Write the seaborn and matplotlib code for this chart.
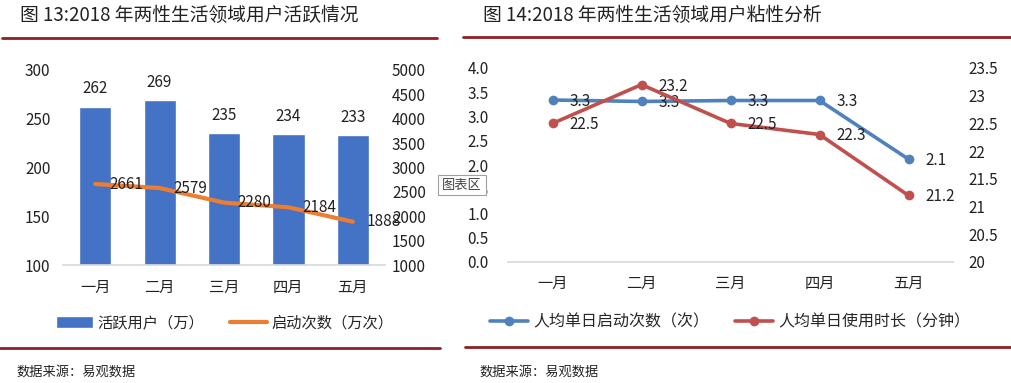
import numpy as np
import pandas as pd
import matplotlib
matplotlib.use("Agg")
import matplotlib.pyplot as plt
from matplotlib.lines import Line2D
from matplotlib.ticker import FixedLocator, FuncFormatter
import seaborn as sns

# ---------------- data ----------------
months = ["一月", "二月", "三月", "四月", "五月"]
active_users = [262, 269, 235, 234, 233]          # 活跃用户（万）
launches = [2661, 2579, 2280, 2184, 1888]          # 启动次数（万次）
daily_launches = [3.34, 3.31, 3.33, 3.33, 2.12]    # 人均单日启动次数（次）
daily_minutes = [22.5, 23.2, 22.5, 22.3, 21.2]     # 人均单日使用时长（分钟）

title_left = "图 13:2018 年两性生活领域用户活跃情况"
title_right = "图 14:2018 年两性生活领域用户粘性分析"
source_text = "数据来源：易观数据"

sns.set_theme(style="white")
plt.rcParams["font.family"] = ["Noto Sans CJK SC", "DejaVu Sans"]
plt.rcParams["axes.unicode_minus"] = False

W, H = 1012, 383
fig = plt.figure(figsize=(W / 100, H / 100), dpi=100)
fig.patch.set_facecolor("white")

def fx(px):
    return px / W

def fy(py):
    return 1 - py / H

BLUE_BAR = "#4472C4"
ORANGE = "#ED7D31"
BLUE_LINE = "#4F81BD"
RED_LINE = "#C0504D"
DARK_RED = "#8E1F22"
AXIS_GRAY = "#D9D9D9"
TXT = "#222222"

# ---------------- titles / rules ----------------
fig.text(fx(20), fy(16), title_left, fontsize=13.5, ha="left", va="center", color=TXT)
fig.text(fx(483), fy(16), title_right, fontsize=13.5, ha="left", va="center", color=TXT)
for x0, x1, y in [(2, 437, 37.5), (463, 1012, 36.5), (0, 440, 348), (465, 1012, 347)]:
    fig.add_artist(Line2D([fx(x0), fx(x1)], [fy(y), fy(y)], transform=fig.transFigure,
                          color=DARK_RED, linewidth=2.0))
fig.text(fx(16), fy(372), source_text, fontsize=9.5, ha="left", va="center", color=TXT)
fig.text(fx(479), fy(372), source_text, fontsize=9.5, ha="left", va="center", color=TXT)

# ---------------- left chart ----------------
axL = fig.add_axes([fx(63), fy(265), fx(385) - fx(63), fy(70) - fy(265)])
dfL = pd.DataFrame({"month": months, "users": active_users, "launch": launches})
sns.barplot(data=dfL, x="month", y="users", color=BLUE_BAR, width=0.5,
            saturation=1, ax=axL, label="活跃用户（万）", zorder=2)
axL.set_ylim(100, 300)
axL.set_yticks(np.arange(100, 301, 50))
axL.bar_label(axL.containers[0], fmt="%d", padding=7, fontsize=11, color=TXT)
axL2 = axL.twinx()
sns.lineplot(data=dfL, x="month", y="launch", color=ORANGE, linewidth=3, sort=False,
             ax=axL2, label="启动次数（万次）", zorder=3)
axL2.set_ylim(1000, 5000)
axL2.set_yticks(np.arange(1000, 5001, 500))
for i, v in enumerate(launches):
    axL2.annotate(f"{v}", (i, v), xytext=(10, 0), textcoords="offset points",
                  ha="left", va="center", fontsize=11, color=TXT)
axL.set_xlim(-0.5, 4.5)
for a in (axL, axL2):
    a.set_xlabel("")
    a.set_ylabel("")
    for s in a.spines.values():
        s.set_visible(False)
    a.grid(False)
axL.spines["bottom"].set_visible(True)
axL.spines["bottom"].set_color(AXIS_GRAY)
axL.tick_params(axis="x", length=0, pad=10, labelsize=11, colors=TXT)
axL.xaxis.set_minor_locator(FixedLocator(np.arange(-0.5, 5, 1)))
axL.tick_params(axis="x", which="minor", length=5, color=AXIS_GRAY, width=1)
axL.tick_params(axis="y", length=0, pad=9, labelsize=11, colors=TXT)
axL2.tick_params(axis="y", length=0, pad=5, labelsize=11, colors=TXT)
if axL.get_legend():
    axL.get_legend().remove()
if axL2.get_legend():
    axL2.get_legend().remove()
hL = [axL.containers[0].patches[0], axL2.get_lines()[0]]
fig.legend(hL, ["活跃用户（万）", "启动次数（万次）"], loc="center",
           bbox_to_anchor=(fx(225), fy(323)), ncol=2, frameon=False, fontsize=11,
           handlelength=2.4, handleheight=0.8, handletextpad=0.3, columnspacing=1.7)

# ---------------- right chart ----------------
axR = fig.add_axes([fx(508), fy(262), fx(953) - fx(508), fy(68) - fy(262)])
dfR = pd.DataFrame({"month": months, "cnt": daily_launches, "mins": daily_minutes})
sns.lineplot(data=dfR, x="month", y="cnt", color=BLUE_LINE, linewidth=2.6, sort=False,
             marker="o", markersize=7, markeredgewidth=0, ax=axR,
             label="人均单日启动次数（次）", zorder=3)
axR.set_ylim(0, 4.0)
axR.set_yticks(np.arange(0, 4.01, 0.5))
axR.yaxis.set_major_formatter(FuncFormatter(lambda v, p: f"{v:.1f}"))
axR2 = axR.twinx()
sns.lineplot(data=dfR, x="month", y="mins", color=RED_LINE, linewidth=2.6, sort=False,
             marker="o", markersize=7, markeredgewidth=0, ax=axR2,
             label="人均单日使用时长（分钟）", zorder=3)
axR2.set_ylim(20, 23.5)
axR2.set_yticks(np.arange(20, 23.51, 0.5))
axR2.yaxis.set_major_formatter(FuncFormatter(lambda v, p: f"{v:g}"))
for i, v in enumerate(daily_launches):
    axR.annotate(f"{v:.1f}", (i, v), xytext=(12, -1), textcoords="offset points",
                 ha="left", va="center", fontsize=11, color=TXT)
for i, v in enumerate(daily_minutes):
    axR2.annotate(f"{v:.1f}", (i, v), xytext=(12, -1), textcoords="offset points",
                  ha="left", va="center", fontsize=11, color=TXT)
axR.set_xlim(-0.5, 4.5)
for a in (axR, axR2):
    a.set_xlabel("")
    a.set_ylabel("")
    for s in a.spines.values():
        s.set_visible(False)
    a.grid(False)
axR.spines["bottom"].set_visible(True)
axR.spines["bottom"].set_color(AXIS_GRAY)
axR.tick_params(axis="x", length=0, pad=9, labelsize=11, colors=TXT)
axR.tick_params(axis="y", length=0, pad=14, labelsize=11, colors=TXT)
axR2.tick_params(axis="y", length=0, pad=11, labelsize=11, colors=TXT)
if axR.get_legend():
    axR.get_legend().remove()
if axR2.get_legend():
    axR2.get_legend().remove()
hR = [axR.get_lines()[0], axR2.get_lines()[0]]
fig.legend(hR, ["人均单日启动次数（次）", "人均单日使用时长（分钟）"], loc="center",
           bbox_to_anchor=(fx(730), fy(322)), ncol=2, frameon=False, fontsize=11.5,
           handlelength=2.4, handletextpad=0.3, columnspacing=1.6)

# Excel "图表区" tooltip
fig.text(fx(462), fy(185), "图表区", fontsize=9.5, ha="center", va="center", color="#444444",
         zorder=10,
         bbox=dict(boxstyle="square,pad=0.3", facecolor="white", edgecolor="#A0A0A0", linewidth=0.8))

fig.savefig("out.png", dpi=100, facecolor="white")
